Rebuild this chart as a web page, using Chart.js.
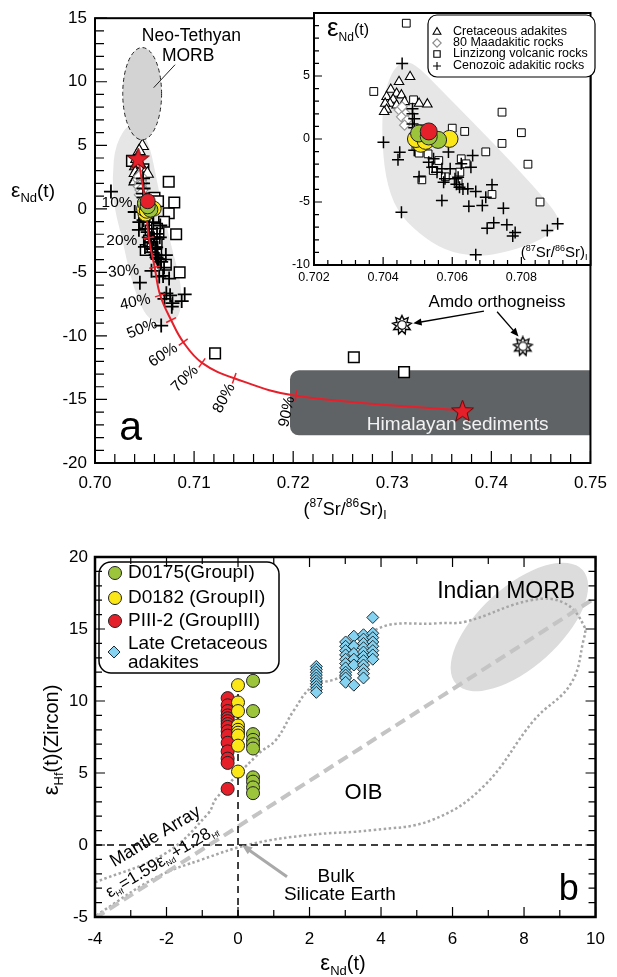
<!DOCTYPE html>
<html>
<head>
<meta charset="utf-8">
<title>Sr–Nd and Hf–Nd isotope diagrams</title>
<script src="https://cdn.jsdelivr.net/npm/chart.js@4.4.1/dist/chart.umd.min.js"></script>
<style>
  html, body { margin: 0; padding: 0; background: #fff; }
  #wrap { position: relative; width: 617px; height: 977px; overflow: hidden; }
  #wrap canvas { position: absolute; }
</style>
</head>
<body>
<div id="wrap">
  <canvas id="srNd" width="617" height="525" style="left:0;top:0"></canvas>
  <canvas id="srNdInset" width="330" height="290" style="left:270px;top:0"></canvas>
  <canvas id="hfNd" width="617" height="452" style="left:0;top:525px"></canvas>
</div>
<script>
const FONT = "'Liberation Sans', Arial, Helvetica, sans-serif";
Chart.defaults.font.family = FONT;
Chart.defaults.color = '#000';
Chart.defaults.animation = false;
Chart.defaults.events = [];
Chart.defaults.plugins.legend.display = false;
Chart.defaults.plugins.tooltip.enabled = false;

// ---------- (a) 87Sr/86Sr vs eNd(t) ----------
// Cretaceous adakites
const cretX = [0.70478, 0.70446, 0.70422, 0.70439, 0.70453, 0.70410, 0.70429, 0.70420, 0.70406, 0.70439, 0.70410, 0.70403, 0.70462, 0.70504, 0.70528, 0.70453];
const cretY = [4.94, 4.54, 3.93, 3.61, 3.48, 3.35, 3.13, 2.82, 2.82, 2.68, 2.34, 2.16, 2.95, 2.82, 2.76, 2.55];
// 80 Ma adakitic rocks
const ma80X = [0.70446, 0.70455, 0.70465, 0.70453, 0.70469, 0.70462];
const ma80Y = [2.30, 2.55, 2.02, 1.76, 1.49, 1.10];
// Linzizong volcanic rocks
const linzX = [0.70467, 0.70373, 0.70488, 0.70512, 0.70487, 0.70504, 0.70512, 0.70600, 0.70636, 0.70744, 0.70744, 0.70697, 0.70800, 0.70819, 0.70715, 0.70854, 0.70530, 0.70561, 0.70626, 0.70640, 0.70622, 0.70617, 0.70545, 0.70580, 0.70495, 0.71212, 0.72612, 0.73119];
const linzY = [9.19, 3.77, 3.11, 0.81, 0.15, -1.12, -3.24, 0.86, 0.60, 2.13, -0.35, -1.02, 0.50, -2.00, -4.40, -5.00, -1.18, -1.71, -1.57, -1.97, -2.63, -3.43, -2.50, -3.00, -0.60, -11.37, -11.68, -12.85];
// Cenozoic adakitic rocks
const cenoX = [0.70161, 0.70455, 0.70401, 0.70448, 0.70443, 0.70453, 0.70485, 0.70485, 0.70490, 0.70485, 0.70490, 0.70490, 0.70504, 0.70570, 0.70532, 0.70546, 0.70542, 0.70556, 0.70570, 0.70579, 0.70594, 0.70608, 0.70575, 0.70589, 0.70617, 0.70621, 0.70626, 0.70612, 0.70631, 0.70659, 0.70654, 0.70645, 0.70668, 0.70715, 0.70697, 0.70648, 0.70687, 0.70748, 0.70720, 0.70701, 0.70758, 0.70782, 0.70775, 0.70875, 0.70905, 0.70668];
const cenoY = [1.36, 6.00, -0.25, -1.05, -1.65, -5.81, 2.40, 2.00, 1.60, 1.20, 0.90, -0.90, -3.00, -4.88, -1.84, -1.57, -2.24, -2.63, -2.37, -3.16, -2.37, -3.16, -3.43, -1.04, -3.03, -3.82, -1.97, -3.60, -3.96, -1.31, -2.24, -3.95, -4.17, -3.64, -4.62, -5.33, -5.28, -5.49, -6.65, -7.08, -6.81, -7.42, -7.70, -7.26, -6.73, -9.19];
// this study, whole rock
const g1SrX = [0.70504, 0.70559, 0.70532];
const g1SrY = [0.44, -0.07, 0.20];
const g2SrX = [0.70592, 0.70509, 0.70495, 0.70523];
const g2SrY = [0.01, -0.38, 0.00, -0.15];
const g3SrX = [0.70532];
const g3SrY = [0.60];
// mixing curve, depleted source -> Himalayan sediments
const mixX = [0.70436, 0.70505, 0.70543, 0.70602, 0.70658, 0.70768, 0.70891, 0.71080, 0.71405, 0.72028, 0.73709];
const mixY = [3.96, 0.60, -2.27, -4.60, -6.80, -8.75, -10.49, -12.12, -13.33, -14.71, -15.88];
const mixPct = ['', '10%', '20%', '30%', '40%', '50%', '60%', '70%', '80%', '90%', ''];
// Amdo orthogneiss
const amdoX = [0.73097, 0.74317];
const amdoY = [-9.14, -10.82];
// fields
const mainFieldX = [0.70363, 0.70542, 0.70642, 0.70761, 0.70841, 0.70881, 0.70851, 0.70721, 0.70542, 0.70443, 0.70353, 0.70284, 0.70194, 0.70174, 0.70204];
const mainFieldY = [6.99, 5.51, 1.47, -2.66, -4.99, -6.78, -8.57, -9.19, -8.72, -7.32, -5.22, -2.66, 0.07, 2.40, 5.12];
const insetFieldX = [0.70455, 0.70493, 0.70560, 0.70664, 0.70776, 0.70880, 0.70913, 0.70898, 0.70833, 0.70739, 0.70664, 0.70579, 0.70504, 0.70438, 0.70406, 0.70396, 0.70401, 0.70424];
const insetFieldY = [6.18, 5.97, 4.11, 1.20, -1.97, -5.15, -6.47, -7.26, -8.32, -9.11, -9.33, -8.85, -7.53, -5.68, -3.03, 0.41, 3.32, 5.30];
const morbCenter = [0.70476, 9.06];
const morbRadius = [0.00196, 3.63];
const himX = [0.71968, 0.75];
const himY = [-12.71, -17.82];

// ---------- (b) eNd(t) vs eHf(t) ----------
const d0175Nd = [0.42, 0.42, 0.42, 0.42, 0.42, 0.42, 0.42, 0.42, 0.42, 0.42];
const d0175Hf = [11.4, 9.3, 7.7, 7.3, 7.0, 6.7, 4.7, 4.4, 4.0, 3.6];
const d0182Nd = [0.0, 0.0, 0.0, 0.0, 0.0, 0.0, 0.0, 0.0, 0.0];
const d0182Hf = [11.1, 9.9, 9.3, 8.3, 8.0, 7.8, 7.6, 6.9, 5.1];
const piii2Nd = [-0.29, -0.29, -0.29, -0.29, -0.29, -0.29, -0.29, -0.29, -0.29, -0.29, -0.29, -0.29, -0.29, -0.29, -0.29];
const piii2Hf = [10.2, 9.7, 9.3, 9.0, 8.8, 8.6, 8.4, 8.2, 7.9, 7.6, 7.1, 6.5, 6.0, 5.7, 3.9];
const lcaNd = [2.19, 2.19, 2.19, 2.19, 2.19, 2.19, 2.19, 2.19, 2.19, 2.19,
  3.01, 3.01, 3.01, 3.01, 3.01, 3.01, 3.01, 3.01, 3.01, 3.01, 3.01,
  3.24, 3.24, 3.24, 3.24, 3.24, 3.24,
  3.51, 3.51, 3.51, 3.51, 3.51, 3.51, 3.51, 3.51, 3.51, 3.51, 3.51,
  3.77, 3.77, 3.77, 3.77, 3.77, 3.77, 3.77, 3.77];
const lcaHf = [12.4, 12.2, 12.0, 11.8, 11.6, 11.4, 11.2, 11.0, 10.8, 10.6,
  14.1, 13.8, 13.5, 13.2, 12.9, 12.6, 12.3, 12.0, 11.8, 11.6, 11.3,
  14.5, 13.8, 13.3, 12.9, 12.5, 11.1,
  14.6, 14.3, 14.0, 13.7, 13.4, 13.1, 12.8, 12.5, 12.2, 11.9, 11.6,
  15.8, 14.7, 14.4, 14.1, 13.8, 13.5, 13.2, 12.9];
// mantle array eHf = 1.59 eNd + 1.28 and its envelope
const mantleSlope = 1.59;
const mantleIntercept = 1.28;
const mantleNd = [-4, 10];
const envNd = [-4, -2.03, -0.83, -0.61, 0.59, 1.06, 1.57, 2.08, 2.91, 3.84, 5.60, 6.35, 8.20, 9.13, 9.68, 9.66, 9.31, 8.29, 6.86, 5.43, 3.79, 2.00, 0.38, -1.00, -2.25, -3.79, -4];
const envHf = [-2.6, -0.58, 2.2, 3.24, 6.37, 7.29, 9.38, 11.0, 11.8, 14.93, 15.4, 15.5, 17.0, 16.8, 15.2, 14.2, 11.2, 8.7, 4.05, 1.74, 1.04, 0.7, 0.07, -1.0, -2.2, -4.6, -5.0];
const zeroVNd = [0, 0];
const zeroVHf = [-5, 11];
const zeroHNd = [-4, 10];
const zeroHHf = [0, 0];
const indMorbCenter = [7.87, 15.14];
const indMorbMajor = [9.64, 19.09];
const indMorbMinor = [8.63, 13.08];

const RED = '#e6202a', YELLOW = '#fbe717', GREEN = '#9cc53c', BLUE = '#85d2f1';

// ---------- helpers ----------
const pts = (xs, ys) => xs.map((x, i) => ({ x, y: ys[i] }));
const toPx = (chart, x, y) => [chart.scales.x.getPixelForValue(x), chart.scales.y.getPixelForValue(y)];

function rich(ctx, parts, x, y, align, rot) {
  ctx.save();
  ctx.translate(x, y);
  if (rot) ctx.rotate(rot * Math.PI / 180);
  let w = 0;
  parts.forEach(p => { ctx.font = p[1] + 'px ' + FONT; w += ctx.measureText(p[0]).width; });
  let cx = align === 'center' ? -w / 2 : align === 'right' ? -w : 0;
  ctx.fillStyle = '#000';
  ctx.textAlign = 'left';
  ctx.textBaseline = 'alphabetic';
  parts.forEach(p => {
    ctx.font = p[1] + 'px ' + FONT;
    ctx.fillText(p[0], cx, p[2] || 0);
    cx += ctx.measureText(p[0]).width;
  });
  ctx.restore();
}

function text(ctx, str, x, y, size, opts = {}) {
  ctx.save();
  ctx.translate(x, y);
  if (opts.rot) ctx.rotate(opts.rot * Math.PI / 180);
  ctx.font = size + 'px ' + FONT;
  ctx.fillStyle = opts.color || '#000';
  ctx.textAlign = opts.align || 'center';
  ctx.textBaseline = opts.baseline || 'middle';
  ctx.fillText(str, 0, 0);
  ctx.restore();
}

function smoothShape(ctx, p) {
  const n = p.length;
  const mid = (a, b) => [(a[0] + b[0]) / 2, (a[1] + b[1]) / 2];
  const m0 = mid(p[n - 1], p[0]);
  ctx.beginPath();
  ctx.moveTo(m0[0], m0[1]);
  for (let i = 0; i < n; i++) {
    const q = mid(p[i], p[(i + 1) % n]);
    ctx.quadraticCurveTo(p[i][0], p[i][1], q[0], q[1]);
  }
  ctx.closePath();
}

function roundRect(ctx, x, y, w, h, r) {
  ctx.beginPath();
  ctx.moveTo(x + r, y);
  ctx.arcTo(x + w, y, x + w, y + h, r);
  ctx.arcTo(x + w, y + h, x, y + h, r);
  ctx.arcTo(x, y + h, x, y, r);
  ctx.arcTo(x, y, x + w, y, r);
  ctx.closePath();
}

function arrow(ctx, p0, p1, head, color, lw) {
  const a = Math.atan2(p1[1] - p0[1], p1[0] - p0[0]);
  ctx.save();
  ctx.strokeStyle = color;
  ctx.fillStyle = color;
  ctx.lineWidth = lw;
  ctx.beginPath();
  ctx.moveTo(p0[0], p0[1]);
  ctx.lineTo(p1[0] - Math.cos(a) * head * 0.7, p1[1] - Math.sin(a) * head * 0.7);
  ctx.stroke();
  ctx.beginPath();
  ctx.moveTo(p1[0], p1[1]);
  ctx.lineTo(p1[0] - head * Math.cos(a - 0.4), p1[1] - head * Math.sin(a - 0.4));
  ctx.lineTo(p1[0] - head * Math.cos(a + 0.4), p1[1] - head * Math.sin(a + 0.4));
  ctx.closePath();
  ctx.fill();
  ctx.restore();
}

// frame plus inward tick marks; labelled ticks are drawn longer
function frame(chart, sides, lw, major, minor) {
  const { ctx, chartArea: a } = chart;
  const xs = chart.scales.x, ys = chart.scales.y;
  ctx.save();
  ctx.strokeStyle = '#000';
  ctx.lineWidth = 1.2;
  ctx.beginPath();
  xs.ticks.forEach(t => {
    const x = xs.getPixelForValue(t.value), len = t.label ? major : minor;
    if (sides.includes('b')) { ctx.moveTo(x, a.bottom); ctx.lineTo(x, a.bottom - len); }
    if (sides.includes('t')) { ctx.moveTo(x, a.top); ctx.lineTo(x, a.top + len); }
  });
  ys.ticks.forEach(t => {
    const y = ys.getPixelForValue(t.value), len = t.label ? major : minor;
    if (sides.includes('l')) { ctx.moveTo(a.left, y); ctx.lineTo(a.left + len, y); }
    if (sides.includes('r')) { ctx.moveTo(a.right, y); ctx.lineTo(a.right - len, y); }
  });
  ctx.stroke();
  ctx.lineWidth = lw;
  ctx.strokeRect(a.left, a.top, a.right - a.left, a.bottom - a.top);
  ctx.restore();
}

function legendSymbol(ctx, style, r, fill, stroke, lw, x, y) {
  ctx.save();
  ctx.fillStyle = fill;
  ctx.strokeStyle = stroke;
  ctx.lineWidth = lw;
  Chart.helpers.drawPoint(ctx, { pointStyle: style, radius: r, rotation: 0, borderWidth: lw }, x, y);
  ctx.restore();
}

function linAxis(min, max, step, label, size, pad, fit, horizontal) {
  return {
    type: 'linear', min, max,
    grid: { display: false, drawTicks: false },
    border: { display: false },
    ticks: { stepSize: step, autoSkip: false, maxRotation: 0, padding: pad, font: { size }, color: '#000', callback: label },
    afterFit: s => { if (horizontal) s.height = fit; else s.width = fit; }
  };
}

function starImage(size) {
  const c = document.createElement('canvas');
  c.width = c.height = size;
  const g = c.getContext('2d'), m = size / 2, R = m - 1, r = R * 0.42;
  g.beginPath();
  for (let i = 0; i < 10; i++) {
    const a = -Math.PI / 2 + i * Math.PI / 5, rr = i % 2 ? r : R;
    g.lineTo(m + rr * Math.cos(a), m + 1 + rr * Math.sin(a));
  }
  g.closePath();
  g.fillStyle = RED;
  g.fill();
  g.strokeStyle = '#5a0a0a';
  g.lineWidth = 1;
  g.stroke();
  return c;
}

// outlined many-pointed star with a ring, for the orthogneiss samples
function sunImage(size) {
  const c = document.createElement('canvas');
  c.width = c.height = size;
  const g = c.getContext('2d'), m = size / 2, R = m - 1.5, r = R * 0.6;
  g.beginPath();
  for (let i = 0; i < 18; i++) {
    const a = -Math.PI / 2 + i * Math.PI / 9, rr = i % 2 ? r : R;
    g.lineTo(m + rr * Math.cos(a), m + rr * Math.sin(a));
  }
  g.closePath();
  g.fillStyle = '#fff';
  g.fill();
  g.strokeStyle = '#000';
  g.lineWidth = 1.4;
  g.stroke();
  g.beginPath();
  g.arc(m, m, R * 0.45, 0, Math.PI * 2);
  g.lineWidth = 1.2;
  g.stroke();
  return c;
}

// point sets shared by the main plot and the inset
function srNdSets(s) {
  return [
    { data: pts(g3SrX, g3SrY), order: 1, pointStyle: 'circle', pointRadius: s.circ, pointBackgroundColor: RED, pointBorderColor: '#222', pointBorderWidth: 1 },
    { data: pts(g1SrX, g1SrY), order: 2, pointStyle: 'circle', pointRadius: s.circ, pointBackgroundColor: GREEN, pointBorderColor: '#222', pointBorderWidth: 1 },
    { data: pts(g2SrX, g2SrY), order: 3, pointStyle: 'circle', pointRadius: s.circ, pointBackgroundColor: YELLOW, pointBorderColor: '#222', pointBorderWidth: 1 },
    { data: pts(cenoX, cenoY), order: 5, pointStyle: 'cross', pointRadius: s.cross, pointBorderColor: '#000', pointBorderWidth: s.crossW },
    { data: pts(ma80X, ma80Y), order: 6, pointStyle: 'rectRot', pointRadius: s.dia, pointBackgroundColor: '#fff', pointBorderColor: '#9a9a9a', pointBorderWidth: 1.2 },
    { data: pts(cretX, cretY), order: 7, pointStyle: 'triangle', pointRadius: s.tri, pointBackgroundColor: '#fff', pointBorderColor: '#000', pointBorderWidth: 1.1 },
    { data: pts(linzX, linzY), order: 8, pointStyle: 'rect', pointRadius: s.sq, pointBackgroundColor: '#fff', pointBorderColor: '#000', pointBorderWidth: s.sqW }
  ];
}

// ---------- main Sr-Nd plot ----------
const pctOffset = [null, [-28, 2], [-27, 3], [-31, 4], [-25, 7], [-29, 9], [-20, 13], [-17, 16], [-10, 20], [-9, 16]];
const pctRot = [0, 0, 0, -5, -12, -22, -33, -45, -62, -78];

const srNdDecor = {
  id: 'srNdDecor',
  beforeDatasetsDraw(chart) {
    const { ctx, chartArea: a } = chart;
    ctx.save();
    ctx.beginPath();
    ctx.rect(a.left, a.top, a.right - a.left, a.bottom - a.top);
    ctx.clip();
    smoothShape(ctx, mainFieldX.map((x, i) => toPx(chart, x, mainFieldY[i])));
    ctx.fillStyle = '#e6e6e6';
    ctx.fill();
    const h0 = toPx(chart, himX[0], himY[0]), h1 = toPx(chart, himX[1], himY[1]);
    roundRect(ctx, h0[0], h0[1], h1[0] - h0[0] + 12, h1[1] - h0[1], 9);
    ctx.fillStyle = '#606365';
    ctx.fill();
    ctx.restore();
    const t = toPx(chart, 0.7366, -16.97);
    text(ctx, 'Himalayan sediments', t[0], t[1], 19, { color: '#f2f2f2' });
  },
  afterDatasetsDraw(chart) {
    const ctx = chart.ctx;
    // Neo-Tethyan MORB
    const c = toPx(chart, morbCenter[0], morbCenter[1]);
    const rx = Math.abs(chart.scales.x.getPixelForValue(morbCenter[0] + morbRadius[0]) - c[0]);
    const ry = Math.abs(chart.scales.y.getPixelForValue(morbCenter[1] + morbRadius[1]) - c[1]);
    ctx.save();
    ctx.beginPath();
    ctx.ellipse(c[0], c[1], rx, ry, 0, 0, Math.PI * 2);
    ctx.fillStyle = '#d3d3d3';
    ctx.fill();
    ctx.setLineDash([4, 3]);
    ctx.strokeStyle = '#222';
    ctx.lineWidth = 1;
    ctx.stroke();
    ctx.setLineDash([]);
    const l0 = toPx(chart, 0.70808, 11.34), l1 = toPx(chart, 0.70592, 9.53);
    ctx.beginPath();
    ctx.moveTo(l0[0], l0[1]);
    ctx.lineTo(l1[0], l1[1]);
    ctx.stroke();
    ctx.restore();
    let p = toPx(chart, 0.70973, 13.55);
    text(ctx, 'Neo-Tethyan', p[0], p[1], 17.5);
    p = toPx(chart, 0.70940, 11.99);
    text(ctx, 'MORB', p[0], p[1], 17.5);

    // mixing percentages
    mixPct.forEach((s, i) => {
      if (!s) return;
      const q = toPx(chart, mixX[i], mixY[i]);
      text(ctx, s, q[0] + pctOffset[i][0], q[1] + pctOffset[i][1], 15.5, { rot: pctRot[i] });
    });

    // Amdo orthogneiss
    p = toPx(chart, 0.74058, -7.32);
    text(ctx, 'Amdo orthogneiss', p[0], p[1], 17);
    arrow(ctx, toPx(chart, 0.73925, -8.05), toPx(chart, 0.73212, -9.01), 9, '#000', 1.3);
    arrow(ctx, toPx(chart, 0.74058, -8.1), toPx(chart, 0.74274, -10.04), 9, '#000', 1.3);

    p = toPx(chart, 0.7036, -18.2);
    text(ctx, 'a', p[0], p[1], 41, { baseline: 'alphabetic' });
  },
  afterDraw(chart) {
    const ctx = chart.ctx;
    frame(chart, 'lb', 2, 12, 9);
    rich(ctx, [['ε', 21], ['Nd', 13, 5], ['(t)', 19]], 33, 197, 'center');
    rich(ctx, [['(', 18], ['87', 12, -8], ['Sr/', 18], ['86', 12, -8], ['Sr)', 18], ['I', 12, 4]], 345, 515, 'center');
  }
};

const redStar = starImage(25);
const sun = sunImage(22);

new Chart(document.getElementById('srNd'), {
  type: 'scatter',
  data: {
    datasets: [
      { data: [{ x: mixX[0], y: mixY[0] }, { x: mixX[mixX.length - 1], y: mixY[mixY.length - 1] }], order: 0, pointStyle: redStar, pointRadius: 10 },
      { data: pts(amdoX, amdoY), order: 0, pointStyle: sun, pointRadius: 10 },
      {
        data: pts(mixX, mixY), order: 4, showLine: true, fill: false, tension: 0.4,
        borderColor: RED, borderWidth: 2,
        pointStyle: 'line', pointBorderColor: RED, pointBorderWidth: 1.5,
        pointRadius: c => mixPct[c.dataIndex] ? 5.5 : 0,
        pointRotation: c => {
          const i = c.dataIndex, n = mixX.length;
          const p0 = toPx(c.chart, mixX[Math.max(i - 1, 0)], mixY[Math.max(i - 1, 0)]);
          const p1 = toPx(c.chart, mixX[Math.min(i + 1, n - 1)], mixY[Math.min(i + 1, n - 1)]);
          return Math.atan2(p1[1] - p0[1], p1[0] - p0[0]) * 180 / Math.PI - 90;
        }
      },
      ...srNdSets({ circ: 7.5, cross: 7, crossW: 1.8, dia: 6.5, tri: 7, sq: 7.5, sqW: 1.5 })
    ]
  },
  options: {
    responsive: false,
    layout: { padding: { left: 0, top: 13, right: 19, bottom: 0 } },
    scales: {
      x: linAxis(0.70, 0.75, 0.002, v => { const k = Math.round(v * 1000); return k % 10 === 0 ? (k / 1000).toFixed(2) : ''; }, 17, 10, 62, true),
      y: linAxis(-20, 15, 1, v => { const r = Math.round(v); return r % 5 === 0 ? String(r) : ''; }, 17, 8, 95, false)
    }
  },
  plugins: [srNdDecor]
});

// ---------- inset: enlarged view ----------
const insetLegend = [
  ['Cretaceous adakites', 'triangle', 4.5, '#fff', '#000'],
  ['80 Maadakitic rocks', 'rectRot', 4.2, '#fff', '#8a8a8a'],
  ['Linzizong volcanic rocks', 'rect', 4.5, '#fff', '#000'],
  ['Cenozoic adakitic rocks', 'cross', 4, '#fff', '#000']
];

const insetDecor = {
  id: 'insetDecor',
  beforeDatasetsDraw(chart) {
    const { ctx, chartArea: a } = chart;
    ctx.save();
    ctx.fillStyle = '#fff';
    ctx.fillRect(a.left, a.top, a.right - a.left, a.bottom - a.top);
    smoothShape(ctx, insetFieldX.map((x, i) => toPx(chart, x, insetFieldY[i])));
    ctx.fillStyle = '#e6e6e6';
    ctx.fill();
    ctx.restore();
  },
  afterDatasetsDraw(chart) {
    const { ctx, chartArea: a } = chart;
    frame(chart, 'lb', 2, 8, 5);
    // legend
    ctx.save();
    roundRect(ctx, a.left + 114, a.top + 2, 167, 62, 9);
    ctx.fillStyle = '#fff';
    ctx.fill();
    ctx.strokeStyle = '#000';
    ctx.lineWidth = 1.2;
    ctx.stroke();
    ctx.restore();
    const rows = [19, 30, 41, 53];
    insetLegend.forEach((e, i) => {
      legendSymbol(ctx, e[1], e[2], e[3], e[4], 1.1, a.left + 123, a.top + rows[i]);
      text(ctx, e[0], a.left + 139, a.top + rows[i], 12.5, { align: 'left' });
    });
    rich(ctx, [['ε', 26], ['Nd', 12, 5], ['(t)', 16, -1]], a.left + 13, a.top + 23, 'left');
    rich(ctx, [['(', 15], ['87', 9, -6], ['Sr/', 15], ['86', 9, -6], ['Sr)', 15], ['I', 9, 3]], a.right - 3, a.bottom - 8, 'right');
  }
};

new Chart(document.getElementById('srNdInset'), {
  type: 'scatter',
  data: { datasets: srNdSets({ circ: 8.5, cross: 6, crossW: 1.5, dia: 5, tri: 5.5, sq: 5.5, sqW: 1 }) },
  options: {
    responsive: false,
    layout: { padding: { left: 0, top: 13, right: 2, bottom: 0 } },
    scales: {
      x: linAxis(0.702, 0.710, 0.0004, v => { const k = Math.round(v * 10000); return k % 20 === 0 && k < 7100 ? (k / 10000).toFixed(3) : ''; }, 12.5, 5, 25, true),
      y: linAxis(-10, 10, 1, v => { const r = Math.round(v); return r % 5 === 0 && r < 10 ? String(r) : ''; }, 12.5, 4, 44, false)
    }
  },
  plugins: [insetDecor]
});

// ---------- (b) eNd(t) vs eHf(t) ----------
const hfLegend = [
  ['D0175(GroupI)', 'circle', 6.5, GREEN],
  ['D0182 (GroupII)', 'circle', 6.5, YELLOW],
  ['PIII-2 (GroupIII)', 'circle', 6.5, RED]
];

const hfDecor = {
  id: 'hfDecor',
  beforeDatasetsDraw(chart) {
    const { ctx, chartArea: a } = chart;
    const c = toPx(chart, indMorbCenter[0], indMorbCenter[1]);
    const M = toPx(chart, indMorbMajor[0], indMorbMajor[1]);
    const m = toPx(chart, indMorbMinor[0], indMorbMinor[1]);
    ctx.save();
    ctx.beginPath();
    ctx.rect(a.left, a.top, a.right - a.left, a.bottom - a.top);
    ctx.clip();
    ctx.beginPath();
    ctx.ellipse(c[0], c[1], Math.hypot(M[0] - c[0], M[1] - c[1]), Math.hypot(m[0] - c[0], m[1] - c[1]), Math.atan2(M[1] - c[1], M[0] - c[0]), 0, Math.PI * 2);
    ctx.fillStyle = '#dcdcdc';
    ctx.fill();
    ctx.restore();
  },
  afterDatasetsDraw(chart) {
    const { ctx, chartArea: a } = chart;
    let p = toPx(chart, 7.50, 17.59);
    text(ctx, 'Indian MORB', p[0], p[1], 23);
    p = toPx(chart, 3.51, 3.61);
    text(ctx, 'OIB', p[0], p[1], 22);
    p = toPx(chart, 2.74, -2.2);
    text(ctx, 'Bulk', p[0], p[1], 19);
    p = toPx(chart, 2.85, -3.47);
    text(ctx, 'Silicate Earth', p[0], p[1], 19);
    arrow(ctx, toPx(chart, 1.37, -2.2), toPx(chart, 0.11, 0.0), 11, '#a9a9a9', 3);
    p = toPx(chart, -2.31, 0.58);
    text(ctx, 'Mantle Array', p[0], p[1], 18, { rot: -31 });
    p = toPx(chart, -2.06, -0.99);
    rich(ctx, [['ε', 17], ['Hf', 8, 3], ['=1.59ε', 17], ['Nd', 8, 3], ['+1.28', 17], ['Hf', 8, 3]], p[0], p[1] + 6, 'center', -31);
    p = toPx(chart, 9.25, -3.82);
    text(ctx, 'b', p[0], p[1], 36, { baseline: 'alphabetic' });

    // legend
    ctx.save();
    roundRect(ctx, a.left + 4, a.top + 5, 180, 111, 12);
    ctx.fillStyle = '#fff';
    ctx.fill();
    ctx.strokeStyle = '#000';
    ctx.lineWidth = 1.5;
    ctx.stroke();
    ctx.restore();
    const rows = [16, 41, 64];
    hfLegend.forEach((e, i) => {
      legendSymbol(ctx, e[1], e[2], e[3], '#222', 1, a.left + 20, a.top + rows[i]);
      text(ctx, e[0], a.left + 33, a.top + rows[i], 19, { align: 'left' });
    });
    legendSymbol(ctx, 'rectRot', 6, BLUE, '#1e2a30', 1, a.left + 19, a.top + 95);
    text(ctx, 'Late Cretaceous', a.left + 33, a.top + 87, 19, { align: 'left' });
    text(ctx, 'adakites', a.left + 33, a.top + 106, 19, { align: 'left' });

    frame(chart, 'lbtr', 2.5, 10, 7);
    rich(ctx, [['ε', 22], ['Nd', 13, 5], ['(t)', 20]], 343, 445, 'center');
    rich(ctx, [['ε', 22], ['Hf', 13, 5], ['(t)(Zircon)', 20]], 58, 215, 'center', -90);
  }
};

new Chart(document.getElementById('hfNd'), {
  type: 'scatter',
  data: {
    datasets: [
      { data: pts(d0175Nd, d0175Hf), order: 1, pointStyle: 'circle', pointRadius: 6.5, pointBackgroundColor: GREEN, pointBorderColor: '#222', pointBorderWidth: 1 },
      { data: pts(d0182Nd, d0182Hf), order: 2, pointStyle: 'circle', pointRadius: 6.5, pointBackgroundColor: YELLOW, pointBorderColor: '#222', pointBorderWidth: 1 },
      { data: pts(piii2Nd, piii2Hf), order: 3, pointStyle: 'circle', pointRadius: 6.5, pointBackgroundColor: RED, pointBorderColor: '#222', pointBorderWidth: 1 },
      { data: pts(lcaNd, lcaHf), order: 4, pointStyle: 'rectRot', pointRadius: 6, pointBackgroundColor: BLUE, pointBorderColor: '#1e2a30', pointBorderWidth: 1 },
      { data: pts(zeroVNd, zeroVHf), order: 5, showLine: true, pointRadius: 0, borderColor: '#000', borderWidth: 1.5, borderDash: [7, 5] },
      { data: pts(zeroHNd, zeroHHf), order: 5, showLine: true, pointRadius: 0, borderColor: '#000', borderWidth: 1.5, borderDash: [7, 5] },
      { data: mantleNd.map(x => ({ x, y: mantleSlope * x + mantleIntercept })), order: 6, showLine: true, pointRadius: 0, borderColor: '#c4c4c4', borderWidth: 4, borderDash: [11, 6] },
      { data: pts(envNd, envHf), order: 7, showLine: true, tension: 0.4, pointRadius: 0, borderColor: '#a6a6a6', borderWidth: 2.5, borderDash: [2.5, 2.5] }
    ]
  },
  options: {
    responsive: false,
    layout: { padding: { left: 0, top: 32, right: 19, bottom: 0 } },
    scales: {
      x: linAxis(-4, 10, 1, v => { const r = Math.round(v); return r % 2 === 0 ? String(r) : ''; }, 17, 12, 60, true),
      y: linAxis(-5, 20, 1, v => { const r = Math.round(v); return r % 5 === 0 ? String(r) : ''; }, 17, 7, 95, false)
    }
  },
  plugins: [hfDecor]
});
</script>
</body>
</html>
